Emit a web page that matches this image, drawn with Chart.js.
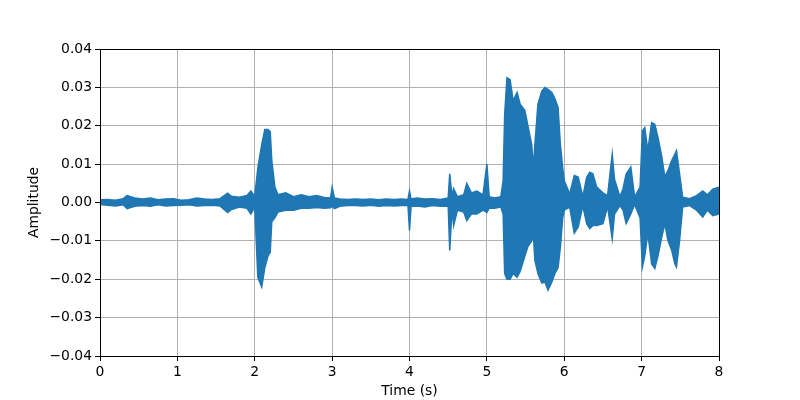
<!DOCTYPE html>
<html>
<head>
<meta charset="utf-8">
<script src="https://cdn.jsdelivr.net/npm/chart.js@4/dist/chart.umd.min.js"></script>
<style>
  html, body { margin: 0; padding: 0; background: #fff; }
  #wrap { width: 800px; height: 400px; }
</style>
</head>
<body>
<div id="wrap"><canvas id="waveChart" width="800" height="400"></canvas></div>
<script>
// envelope of the waveform (seconds / amplitude)
const times = [0, 0.1, 0.2, 0.3, 0.35, 0.45, 0.55, 0.65, 0.75, 0.85, 0.95, 1.05, 1.15, 1.25, 1.35, 1.45, 1.55, 1.65, 1.7, 1.8, 1.9, 1.95, 2.0,
  2.04, 2.09, 2.13, 2.17, 2.2, 2.22, 2.26, 2.3, 2.4, 2.5, 2.6, 2.7, 2.8, 2.9, 2.98, 3.0, 3.03, 3.1, 3.2, 3.3, 3.4, 3.5, 3.6, 3.7, 3.8, 3.9, 3.98,
  4.0, 4.02, 4.1, 4.2, 4.3, 4.4, 4.5, 4.52, 4.55, 4.57, 4.62, 4.7, 4.74, 4.8, 4.87, 4.95, 5.0, 5.03, 5.1, 5.18,
  5.21, 5.23, 5.26, 5.3, 5.34, 5.39, 5.43, 5.49, 5.53, 5.58, 5.6, 5.62, 5.66, 5.71, 5.75, 5.79, 5.84, 5.88, 5.92, 5.95, 5.98,
  6.0, 6.07, 6.13, 6.18, 6.24, 6.29, 6.33, 6.37, 6.42, 6.5, 6.56, 6.62, 6.65, 6.72, 6.76, 6.8, 6.86, 6.91, 6.98,
  7.01, 7.04, 7.08, 7.13, 7.17, 7.21, 7.26, 7.3, 7.34, 7.39, 7.43, 7.45, 7.49, 7.53, 7.62, 7.71, 7.79, 7.85, 7.92, 8.0];

const upper = [0.0007, 0.0008, 0.0006, 0.001, 0.0018, 0.0012, 0.0009, 0.0012, 0.0007, 0.0009, 0.001, 0.0006, 0.0007, 0.0012, 0.0009, 0.0008, 0.001, 0.0024, 0.0016, 0.0014, 0.0018, 0.003, 0.0016,
  0.009, 0.015, 0.019, 0.019, 0.0185, 0.011, 0.004, 0.002, 0.0025, 0.0015, 0.002, 0.0015, 0.0018, 0.0013, 0.0012, 0.004, 0.0012, 0.0009, 0.0008, 0.0009, 0.0008, 0.0009, 0.0007, 0.0009, 0.0008, 0.0009, 0.0008,
  0.003, 0.0009, 0.0012, 0.0009, 0.001, 0.0008, 0.0012, 0.0075, 0.0015, 0.0036, 0.0015, 0.002, 0.005, 0.0025, 0.003, 0.002, 0.010, 0.0015, 0.0012, 0.0015,
  0.0057, 0.023, 0.0325, 0.032, 0.0265, 0.0287, 0.0256, 0.024, 0.020, 0.015, 0.009, 0.015, 0.0256, 0.029, 0.030, 0.0295, 0.0287, 0.027, 0.0248, 0.015, 0.009,
  0.0057, 0.0022, 0.007, 0.0066, 0.0015, 0.0066, 0.0079, 0.0075, 0.004, 0.0025, 0.0018, 0.0126, 0.006, 0.0015, 0.0036, 0.0074, 0.0092, 0.0014, 0.004,
  0.0187, 0.0195, 0.0135, 0.0208, 0.0204, 0.017, 0.012, 0.0066, 0.0083, 0.011, 0.0126, 0.0135, 0.0075, 0.0014, 0.001, 0.0018, 0.003, 0.002, 0.0035, 0.004];

const lower = [-0.0005, -0.0007, -0.0009, -0.0006, -0.0016, -0.001, -0.0008, -0.001, -0.0006, -0.0009, -0.0008, -0.0007, -0.0006, -0.0009, -0.0008, -0.0007, -0.0009, -0.0026, -0.0018, -0.0012, -0.0015, -0.003, -0.0012,
  -0.0195, -0.022, -0.017, -0.014, -0.013, -0.005, -0.004, -0.0025, -0.002, -0.002, -0.0015, -0.0015, -0.0013, -0.0015, -0.0014, -0.001, -0.0016, -0.001, -0.0008, -0.0008, -0.0009, -0.0007, -0.001, -0.0008, -0.0009, -0.0008, -0.0008,
  -0.0073, -0.001, -0.0009, -0.0012, -0.0008, -0.001, -0.0009, -0.0125, -0.0015, -0.006, -0.002, -0.0025, -0.0047, -0.003, -0.003, -0.002, -0.0026, -0.0015, -0.0015, -0.0012,
  -0.003, -0.0185, -0.020, -0.020, -0.0185, -0.0195, -0.018, -0.014, -0.0115, -0.010, -0.008, -0.015, -0.0185, -0.021, -0.0207, -0.0228, -0.0207, -0.0185, -0.017, -0.0116, -0.004,
  -0.002, -0.0012, -0.008, -0.0064, -0.0009, -0.0055, -0.0068, -0.006, -0.006, -0.0055, -0.001, -0.0094, -0.003, -0.0008, -0.002, -0.0055, -0.003, -0.0005, -0.004,
  -0.0168, -0.014, -0.008, -0.016, -0.0172, -0.014, -0.009, -0.0055, -0.0099, -0.0125, -0.016, -0.0168, -0.010, -0.0012, -0.0008, -0.002, -0.0038, -0.002, -0.0034, -0.003];

const xTicks = [0, 1, 2, 3, 4, 5, 6, 7, 8];
const yTicks = [-0.04, -0.03, -0.02, -0.01, 0, 0.01, 0.02, 0.03, 0.04];

const waveColor = "#1f77b4";
const fontFamily = "'DejaVu Sans', sans-serif";

const upperPts = times.map((t, i) => ({ x: t, y: upper[i] }));
const lowerPts = times.map((t, i) => ({ x: t, y: lower[i] }));

// matplotlib style closed frame around the plot area
const frame = {
  id: "frame",
  afterDraw(chart) {
    const a = chart.chartArea;
    const c = chart.ctx;
    c.save();
    c.strokeStyle = "#000";
    c.lineWidth = 1;
    c.strokeRect(Math.round(a.left) + 0.5, Math.round(a.top) + 0.5, Math.round(a.right - a.left), Math.round(a.bottom - a.top));
    c.restore();
  }
};

const ctx = document.getElementById("waveChart");

new Chart(ctx, {
  type: "line",
  data: {
    datasets: [
      {
        label: "upper",
        data: upperPts,
        borderColor: waveColor,
        borderWidth: 1.5,
        pointRadius: 0,
        tension: 0,
        fill: false
      },
      {
        label: "lower",
        data: lowerPts,
        borderColor: waveColor,
        backgroundColor: waveColor,
        borderWidth: 1.5,
        pointRadius: 0,
        tension: 0,
        fill: "-1"
      }
    ]
  },
  plugins: [frame],
  options: {
    responsive: false,
    animation: false,
    layout: { padding: { left: 26, right: 81, top: 49, bottom: 0 } },
    plugins: {
      legend: { display: false },
      tooltip: { enabled: false }
    },
    scales: {
      x: {
        type: "linear",
        min: 0,
        max: 8,
        afterBuildTicks: (axis) => { axis.ticks = xTicks.map(v => ({ value: v })); },
        afterFit: (axis) => { axis.height = 44; },
        grid: { color: "#b0b0b0", lineWidth: 1, tickColor: "#000", tickLength: 5 },
        border: { color: "#000" },
        ticks: { color: "#000", padding: 3, maxRotation: 0, font: { family: fontFamily, size: 13.9 }, callback: (v) => String(v) },
        title: { display: true, text: "Time (s)", color: "#000", padding: { top: 0, bottom: 0 }, font: { family: fontFamily, size: 13.9 } }
      },
      y: {
        min: -0.04,
        max: 0.04,
        afterBuildTicks: (axis) => { axis.ticks = yTicks.map(v => ({ value: v })); },
        afterFit: (axis) => { axis.width = 74; },
        grid: { color: "#b0b0b0", lineWidth: 1, tickColor: "#000", tickLength: 5 },
        border: { color: "#000" },
        ticks: { color: "#000", padding: 3, font: { family: fontFamily, size: 13.9 },
          callback: (v) => { const s = Math.abs(v).toFixed(2); return v < -1e-9 ? "\u2212" + s : s; } },
        title: { display: true, text: "Amplitude", color: "#000", padding: { top: 0, bottom: 0 }, font: { family: fontFamily, size: 13.9 } }
      }
    }
  }
});
</script>
</body>
</html>
